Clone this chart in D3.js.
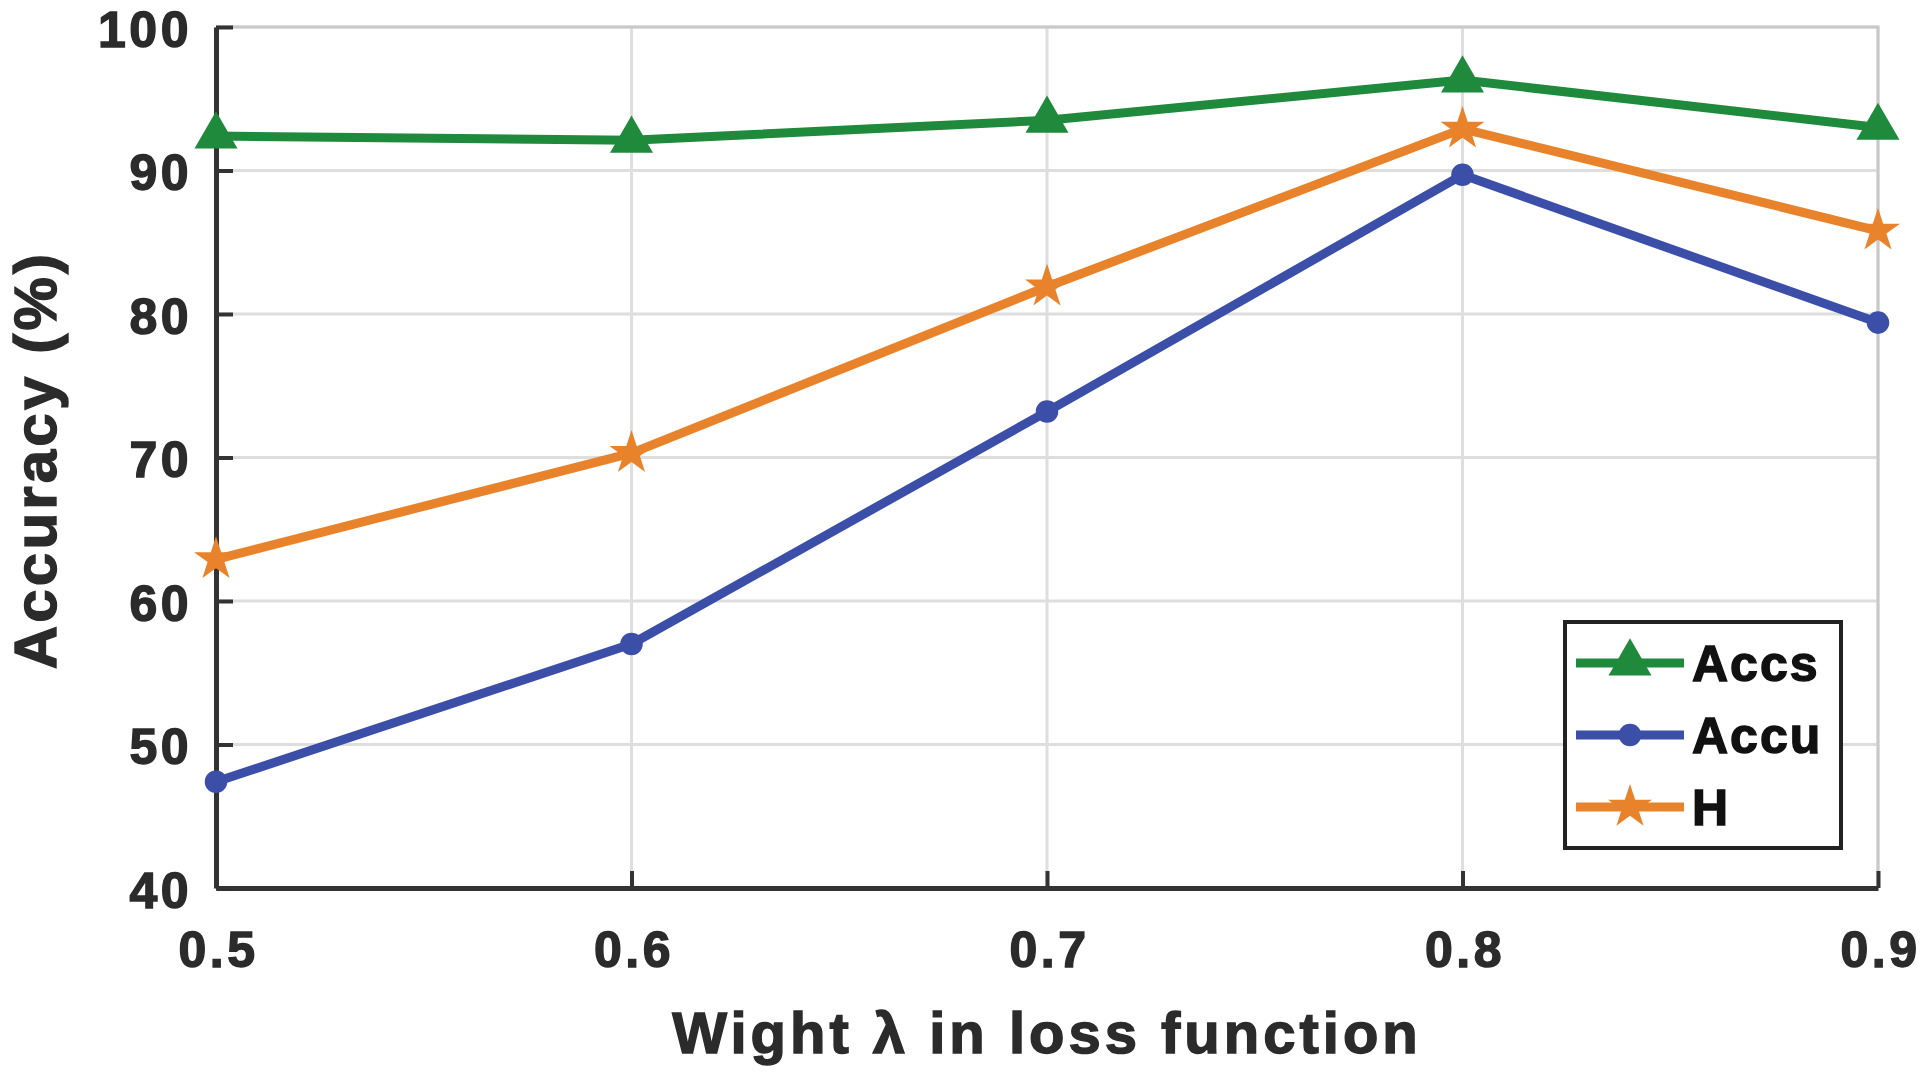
<!DOCTYPE html>
<html>
<head>
<meta charset="utf-8">
<script src="https://cdn.jsdelivr.net/npm/d3@7"></script>
<style>
  html, body { margin: 0; padding: 0; background: #fff; }
  svg { display: block; }
  text { font-family: "Liberation Sans", Arial, sans-serif; font-weight: bold; fill: #2b2b2b; stroke: #2b2b2b; stroke-width: 1.4px; }
</style>
</head>
<body>
<svg id="chart" width="1928" height="1075"></svg>
<script>
const lambdas = [0.5, 0.6, 0.7, 0.8, 0.9]
const accs = [92.4, 92.1, 93.5, 96.3, 93.0]
const accu = [47.4, 57.0, 73.2, 89.7, 79.4]
const hVals = [62.9, 70.3, 81.9, 92.9, 85.8]
const yTicks = [40, 50, 60, 70, 80, 90, 100]

const series = [
  { name: "Accs", values: accs, color: "#1f8a3c", symbol: d3.symbolTriangle, size: 800 },
  { name: "Accu", values: accu, color: "#3b4ea8", symbol: d3.symbolCircle, size: 400 },
  { name: "H", values: hVals, color: "#e8832b", symbol: d3.symbolStar, size: 600 },
]

const plotLeft = 216, plotRight = 1878, plotTop = 27, plotBottom = 888

const x = d3.scaleLinear().domain([0.5, 0.9]).range([plotLeft, plotRight])
const y = d3.scaleLinear().domain([40, 100]).range([plotBottom, plotTop])

const svg = d3.select("#chart")

// grid
const grid = svg.append("g")
grid.selectAll("line.gx")
  .data(lambdas)
  .enter()
  .append("line")
  .attr("x1", (d) => x(d)).attr("x2", (d) => x(d))
  .attr("y1", plotTop).attr("y2", plotBottom)
  .attr("stroke", "#dedede")
  .attr("stroke-width", 3)
grid.selectAll("line.gy")
  .data(yTicks)
  .enter()
  .append("line")
  .attr("x1", plotLeft).attr("x2", plotRight)
  .attr("y1", (d) => y(d)).attr("y2", (d) => y(d))
  .attr("stroke", "#dedede")
  .attr("stroke-width", 3)

// top / right frame
svg.append("path")
  .attr("d", `M${plotLeft},${plotTop}H${plotRight}V${plotBottom}`)
  .attr("fill", "none")
  .attr("stroke", "#c9c9c9")
  .attr("stroke-width", 3)

// axes
const xAxis = d3.axisBottom(x).tickValues(lambdas).tickSizeInner(-17).tickSizeOuter(0).tickFormat(d3.format(".1f"))
const yAxis = d3.axisLeft(y).tickValues(yTicks).tickSizeInner(-17).tickSizeOuter(0)

const gx = svg.append("g").attr("transform", `translate(0,${plotBottom})`).call(xAxis)
const gy = svg.append("g").attr("transform", `translate(${plotLeft},0)`).call(yAxis)

;[gx, gy].forEach((g) => {
  g.select(".domain").attr("stroke", "#333").attr("stroke-width", 5)
  g.selectAll(".tick line").attr("stroke", "#333").attr("stroke-width", 4)
  g.selectAll(".tick text")
    .style("font-family", '"Liberation Sans", Arial, sans-serif')
    .style("font-weight", "bold")
    .style("font-size", "50px")
    .style("letter-spacing", "3.5px")
    .attr("fill", "#2b2b2b")
    .attr("stroke", "#2b2b2b")
    .attr("stroke-width", 1.6)
})
gx.selectAll(".tick text").attr("y", 0).attr("dy", 0).attr("transform", "translate(2,79)")
gy.selectAll(".tick text").attr("x", -24).attr("dy", "0.38em")

// lines
const line = d3.line()
  .x((d, i) => x(lambdas[i]))
  .y((d) => y(d))

svg.selectAll("path.series")
  .data(series)
  .enter()
  .append("path")
  .attr("class", "series")
  .attr("d", (s) => line(s.values))
  .attr("fill", "none")
  .attr("stroke", (s) => s.color)
  .attr("stroke-width", 9)
  .attr("stroke-linejoin", "round")

// markers
series.forEach((s) => {
  svg.append("g")
    .selectAll("path")
    .data(s.values)
    .enter()
    .append("path")
    .attr("d", d3.symbol().type(s.symbol).size(s.size))
    .attr("transform", (d, i) => `translate(${x(lambdas[i])},${y(d)})`)
    .attr("fill", s.color)
})

// axis labels
svg.append("text")
  .attr("x", x(0.7))
  .attr("y", 1053)
  .attr("text-anchor", "middle")
  .style("font-size", "58px")
  .style("letter-spacing", "4px")
  .text("Wight λ in loss function")

svg.append("text")
  .attr("transform", "translate(56,460) rotate(-90)")
  .attr("text-anchor", "middle")
  .style("font-size", "60px")
  .style("letter-spacing", "3.2px")
  .text("Accuracy (%)")

// legend
const legend = svg.append("g")
legend.append("rect")
  .attr("x", 1565).attr("y", 622)
  .attr("width", 276).attr("height", 226)
  .attr("fill", "#fff")
  .attr("stroke", "#222")
  .attr("stroke-width", 4)

const item = legend.selectAll("g.item")
  .data(series)
  .enter()
  .append("g")
  .attr("transform", (s, i) => `translate(0,${663 + i * 72})`)

item.append("line")
  .attr("x1", 1576).attr("x2", 1684)
  .attr("stroke", (s) => s.color)
  .attr("stroke-width", 9)
item.append("path")
  .attr("d", (s) => d3.symbol().type(s.symbol).size(s.size)())
  .attr("transform", "translate(1630,0)")
  .attr("fill", (s) => s.color)
item.append("text")
  .attr("x", 1692)
  .attr("dy", "0.36em")
  .style("font-size", "50px")
  .style("letter-spacing", "2px")
  .style("fill", "#111")
  .style("stroke", "#111")
  .text((s) => s.name)
</script>
</body>
</html>
